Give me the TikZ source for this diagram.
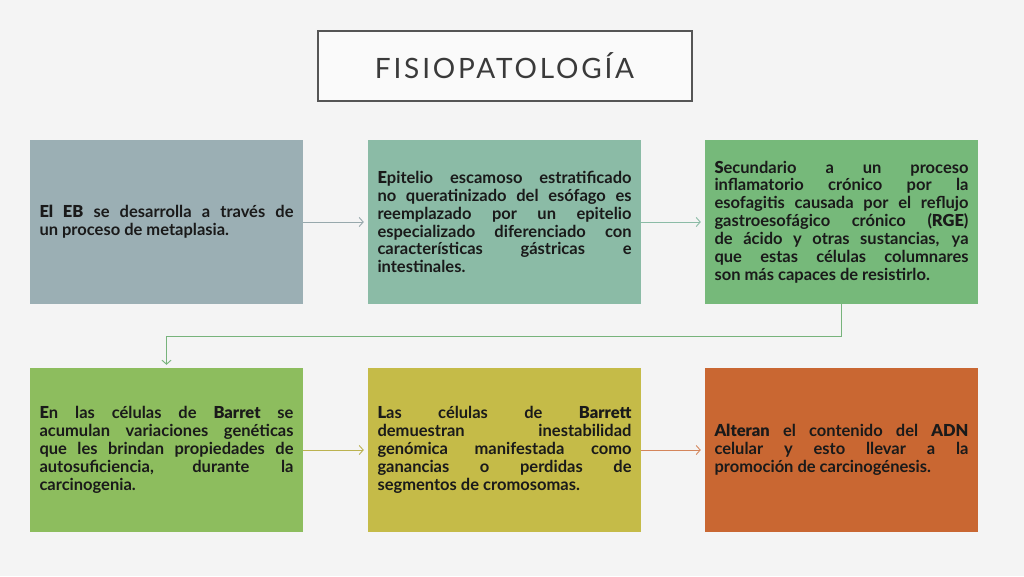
\documentclass[tikz,border=0pt]{standalone}
\usepackage{fontspec}
\setmainfont{Lato Bold}[BoldFont={Lato Black}]
\newfontfamily\titlefont{Lato}[LetterSpace=10]
\usetikzlibrary{arrows.meta}
\definecolor{bgc}{HTML}{F4F4F4}
\definecolor{txt}{HTML}{1A1A1A}
\definecolor{ttl}{HTML}{3A3A3A}
\definecolor{tbord}{HTML}{555555}
\definecolor{c1}{HTML}{9BAFB4}
\definecolor{c2}{HTML}{8BBBA6}
\definecolor{c3}{HTML}{76B97A}
\definecolor{c4}{HTML}{8DBD5E}
\definecolor{c5}{HTML}{C5BB48}
\definecolor{c6}{HTML}{C96732}
\begin{document}
\begin{tikzpicture}[x=1pt,y=-1pt,
  box/.style={minimum width=273pt, minimum height=164pt, inner sep=0pt,
    text width=254pt, align=justify, text=txt,
    font=\fontsize{16.5}{17.9}\selectfont},
  conn/.style={line width=0.9pt, -{Straight Barb[length=4pt,width=9pt]}, shorten >=4pt}]
\fill[bgc] (0,0) rectangle (1024,576);
\useasboundingbox (0,0) rectangle (1024,576);
\node[draw=tbord, line width=2pt, fill=white!50!bgc, minimum width=374pt, minimum height=70pt, text=ttl,
  font=\titlefont\fontsize{28}{28}\selectfont] (t) at (504.5,65.5) {FISIOPATOLOGÍA};
\node[box, fill=c1] (b1) at (166.5,222) {\textbf{El EB} se desarrolla a través de\linebreak un proceso de metaplasia.};
\node[box, fill=c2] (b2) at (504.5,222) {\textbf{E}pitelio escamoso estratificado\linebreak no queratinizado del esófago es\linebreak reemplazado por un epitelio\linebreak especializado diferenciado con\linebreak características gástricas e\linebreak intestinales.};
\node[box, fill=c3] (b3) at (841.5,222) {\textbf{S}ecundario a un proceso\linebreak inflamatorio crónico por la\linebreak esofagitis causada por el reflujo\linebreak gastroesofágico crónico (\textbf{RGE})\linebreak de ácido y otras sustancias, ya\linebreak que estas células columnares\linebreak son más capaces de resistirlo.};
\node[box, fill=c4] (b4) at (166.5,450) {\textbf{E}n las células de \textbf{Barret} se\linebreak acumulan variaciones genéticas\linebreak que les brindan propiedades de\linebreak autosuficiencia, durante la\linebreak carcinogenia.};
\node[box, fill=c5] (b5) at (504.5,450) {\textbf{L}as células de \textbf{Barrett}\linebreak demuestran inestabilidad\linebreak genómica manifestada como\linebreak ganancias o perdidas de\linebreak segmentos de cromosomas.};
\node[box, fill=c6] (b6) at (841.5,450) {\textbf{Alteran} el contenido del \textbf{ADN}\linebreak celular y esto llevar a la\linebreak promoción de carcinogénesis.};
\draw[conn, draw=c1!85!gray] (b1) -- (b2);
\draw[conn, draw=c2] (b2) -- (b3);
\draw[conn, draw=c3!90!gray, shorten >=3pt] (b3.south) -- ++(0,32) -| (b4.north);
\draw[conn, draw=c5!85!gray] (b4) -- (b5);
\draw[conn, draw=c6!80!white] (b5) -- (b6);
\end{tikzpicture}
\end{document}
